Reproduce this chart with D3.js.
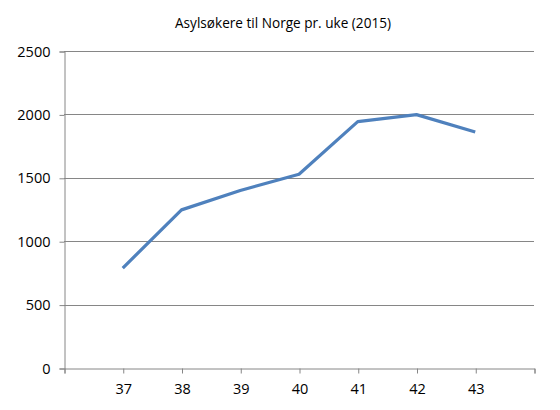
<!DOCTYPE html>
<html>
<head>
<meta charset="utf-8">
<script src="https://cdn.jsdelivr.net/npm/d3@7"></script>
<style>
  body { margin: 0; background: #fff; }
  text { font-family: "Open Sans", "Noto Sans", sans-serif; fill: #000; }
</style>
</head>
<body>
<svg id="chart" width="560" height="410"></svg>
<script>
// week numbers and asylum seekers per week
const weeks = [37, 38, 39, 40, 41, 42, 43]
const seekers = [788, 1247, 1400, 1528, 1943, 1998, 1861]
const yTicks = [0, 500, 1000, 1500, 2000, 2500]

const width = 560,
  height = 410,
  margin = {top: 51, right: 26, bottom: 42, left: 64};

const svg = d3.select('#chart')

svg.append('text')
  .attr('x', 283)
  .attr('y', 28)
  .attr('text-anchor', 'middle')
  .style('font-size', '13.6px')
  .text('Asylsøkere til Norge pr. uke (2015)')

// categories sit on the tick marks, with one empty slot at each end
const x = d3.scaleLinear()
  .domain([weeks[0] - 1, weeks[weeks.length - 1] + 1])
  .range([margin.left, width - margin.right])

const y = d3.scaleLinear()
  .domain([0, 2500])
  .range([height - margin.bottom, margin.top])

// gridlines
svg.append('g')
  .selectAll('line')
  .data(yTicks.slice(1))
  .enter()
  .append('line')
  .attr('x1', margin.left)
  .attr('x2', width - margin.right)
  .attr('y1', d => Math.round(y(d)) + 0.5)
  .attr('y2', d => Math.round(y(d)) + 0.5)
  .attr('stroke', '#868686')

let yAxis = svg.append('g')
  .attr('transform', `translate(${margin.left + 0.5},0.5)`)
  .call(d3.axisLeft(y).tickValues(yTicks).tickSize(5).tickPadding(9).tickFormat(d3.format('d')))
yAxis.select('.domain').attr('stroke', '#868686')
yAxis.selectAll('.tick line').attr('stroke', '#868686')
yAxis.selectAll('.tick text').style('font-size', '14.5px')

const xTickVals = d3.range(weeks[0] - 1, weeks[weeks.length - 1] + 2)
let xAxis = svg.append('g')
  .attr('transform', `translate(0.5,${Math.round(y(0)) + 0.5})`)
  .call(d3.axisBottom(x).tickValues(xTickVals).tickSize(5).tickPadding(10)
    .tickFormat(d => weeks.includes(d) ? d : ''))
xAxis.select('.domain').attr('stroke', '#868686')
xAxis.selectAll('.tick line').attr('stroke', '#868686')
xAxis.selectAll('.tick text').style('font-size', '14.5px')

const line = d3.line()
  .x((d, i) => x(weeks[i]))
  .y(d => y(d))

svg.append('path')
  .datum(seekers)
  .attr('fill', 'none')
  .attr('stroke', '#4F81BD')
  .attr('stroke-width', 3.2)
  .attr('stroke-linejoin', 'round')
  .attr('d', line)
</script>
</body>
</html>
